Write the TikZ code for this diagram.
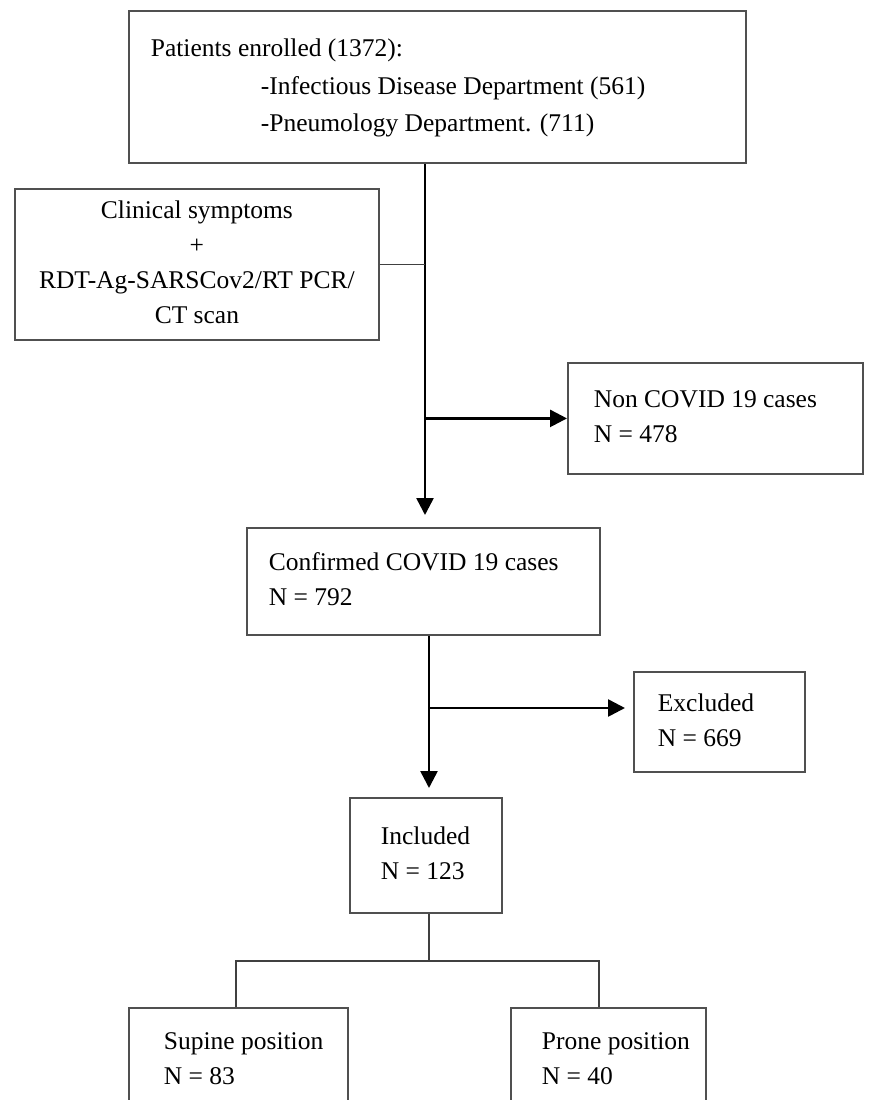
\documentclass[tikz,border=0pt]{standalone}
\usepackage{fontspec}
\setmainfont{Liberation Serif}
\usetikzlibrary{arrows.meta}
\definecolor{boxgray}{HTML}{505050}
\definecolor{linegray}{HTML}{404040}
\newcommand{\fcbtext}[3]{\makebox[#1][#2]{\begin{tabular}{@{}#2@{}}#3\end{tabular}}}
\begin{document}
\begin{tikzpicture}[x=1pt,y=-1pt,
  box/.style={draw=boxgray, line width=1.8pt, anchor=north west, inner ysep=0pt,
    font=\fontsize{25.5}{35}\selectfont},
  conn/.style={line width=2.6pt, black},
  thinconn/.style={line width=1.7pt, linegray},
  arr/.style={conn, -{Triangle[length=17pt,width=17pt]}}]
\useasboundingbox[fill=white] (0,0) rectangle (874,1100);

\node[box, minimum width=617pt, minimum height=152pt, inner xsep=22pt,
  font=\fontsize{25.5}{37.5}\selectfont] (enrol) at (128,10)
  {\fcbtext{573pt}{l}{Patients enrolled (1372):\\
   \hspace*{110pt}-Infectious Disease Department (561)\\
   \hspace*{110pt}-Pneumology Department. (711)}};

\node[box, minimum width=364pt, minimum height=151pt, inner xsep=10pt] (clin) at (14,188)
  {\fcbtext{344pt}{c}{Clinical symptoms\\ +\\ RDT-Ag-SARSCov2/RT PCR/\\ CT scan}};

\node[box, minimum width=295pt, minimum height=111pt, inner xsep=26pt] (noncovid) at (567,362)
  {\fcbtext{243pt}{l}{Non COVID 19 cases\\ N = 478}};

\node[box, minimum width=353pt, minimum height=107pt, inner xsep=22pt] (conf) at (246,527)
  {\fcbtext{309pt}{l}{Confirmed COVID 19 cases\\ N = 792}};

\node[box, minimum width=171pt, minimum height=100pt, inner xsep=24pt] (excl) at (633,671)
  {\fcbtext{123pt}{l}{Excluded\\ N = 669}};

\node[box, minimum width=152pt, minimum height=115pt, inner xsep=31pt] (incl) at (349,797)
  {\fcbtext{90pt}{l}{Included\\ N = 123}};

\node[box, minimum width=219pt, minimum height=105pt, inner xsep=35pt] (sup) at (128,1007)
  {\fcbtext{149pt}{l}{Supine position\\ N = 83}};

\node[box, minimum width=195pt, minimum height=105pt, inner xsep=31pt] (prone) at (510,1007)
  {\fcbtext{133pt}{l}{Prone position\\ N = 40}};

\coordinate (mx) at (425,0);
\coordinate (lx) at (429,0);
\coordinate (by) at (0,708);
\coordinate (sl) at (236,961);
\coordinate (sr) at (599,961);

\draw[arr, shorten >=12pt] (enrol.south -| mx) -- (conf.north -| mx);
\draw[thinconn] (clin.east) -- (clin.east -| mx);
\draw[arr] (noncovid.west -| mx) -- (noncovid.west);

\draw[arr, shorten >=9pt] (conf.south -| lx) -- (incl.north -| lx);
\draw[arr, shorten >=8pt] (lx |- by) -- (excl.west |- by);

\draw[thinconn] (incl.south -| lx) -- (lx |- sl);
\draw[thinconn] (sup.north -| sl) -- (sl) -- (sr) -- (prone.north -| sr);
\end{tikzpicture}
\end{document}
